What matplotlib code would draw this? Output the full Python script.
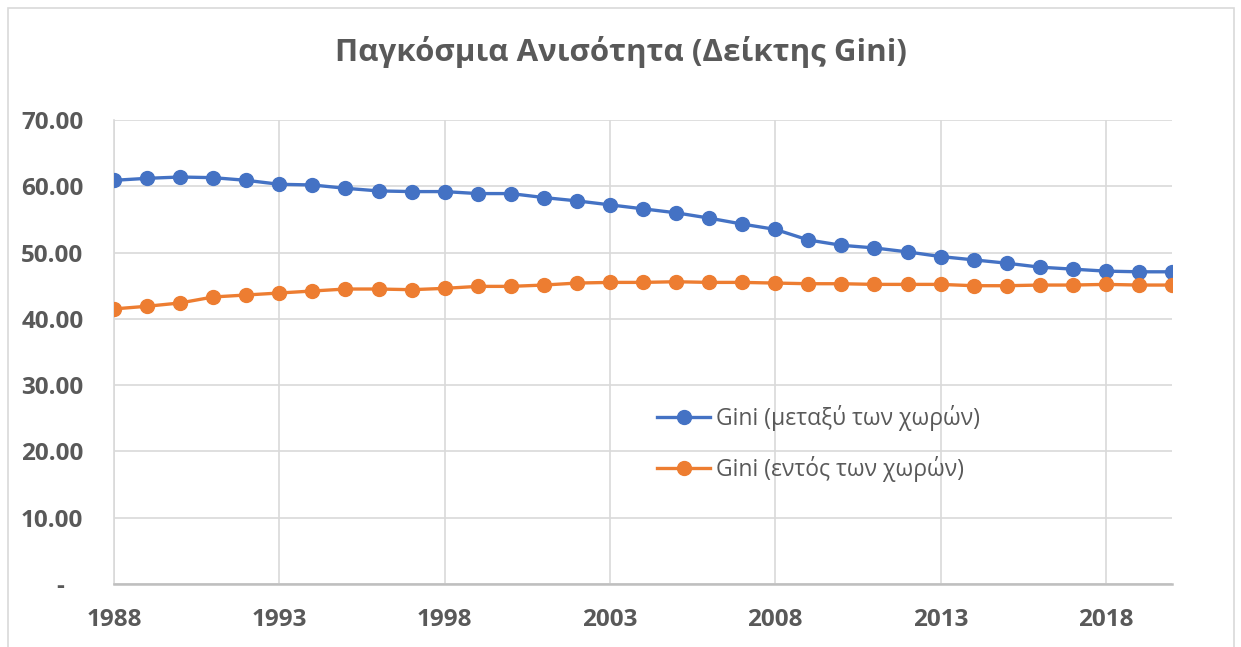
import matplotlib
matplotlib.use('Agg')
import matplotlib.pyplot as plt
from matplotlib.ticker import FuncFormatter, MultipleLocator
from matplotlib.patches import Rectangle

years = list(range(1988, 2021))
gini_between = [60.9, 61.2, 61.4, 61.3, 60.9, 60.3, 60.2, 59.7, 59.3, 59.2,
                59.2, 58.9, 58.9, 58.3, 57.8, 57.2, 56.6, 56.0, 55.2, 54.3,
                53.5, 51.9, 51.1, 50.7, 50.1, 49.4, 48.9, 48.4, 47.8, 47.5,
                47.2, 47.1, 47.1]
gini_within = [41.5, 41.9, 42.4, 43.3, 43.6, 43.9, 44.2, 44.5, 44.5, 44.4,
               44.6, 44.9, 44.9, 45.1, 45.4, 45.5, 45.5, 45.6, 45.5, 45.5,
               45.4, 45.3, 45.3, 45.2, 45.2, 45.2, 45.0, 45.0, 45.1, 45.1,
               45.2, 45.1, 45.1]
label_between = 'Gini (μεταξύ των χωρών)'
label_within = 'Gini (εντός των χωρών)'
title = 'Παγκόσμια Ανισότητα (Δείκτης Gini)'

plt.rcParams['font.family'] = ['Open Sans', 'DejaVu Sans']
textcolor = '#595959'
gridcolor = '#d9d9d9'

fig = plt.figure(figsize=(12.41, 6.47), dpi=100)
ax = fig.add_axes([114/1241, 1 - 584/647, (1172-114)/1241, (584-120)/647])

# chart border
fig.patches.append(Rectangle((8/1241, -0.1), (1234-8)/1241, 1.1 - 8/647, transform=fig.transFigure,
                             fill=False, edgecolor=gridcolor, linewidth=1.2))

ax.plot(years, gini_between, color='#4472C4', linewidth=2.4, marker='o', markersize=10,
        label=label_between, zorder=3)
ax.plot(years, gini_within, color='#ED7D31', linewidth=2.4, marker='o', markersize=10,
        label=label_within, zorder=3)

ax.set_xlim(1988, 2020)
ax.set_ylim(0, 70)
ax.yaxis.set_major_locator(MultipleLocator(10))
ax.set_xticks(list(range(1988, 2020, 5)))
ax.yaxis.set_major_formatter(FuncFormatter(lambda v, p: '-   ' if v == 0 else '%.2f' % v))

ax.grid(True, color=gridcolor, linewidth=1.2)
ax.set_axisbelow(True)
for s in ['top', 'right']:
        ax.spines[s].set_visible(False)
ax.spines['left'].set_color(gridcolor)
ax.spines['left'].set_linewidth(1.2)
ax.spines['bottom'].set_color('#bfbfbf')
ax.spines['bottom'].set_linewidth(1.8)
ax.tick_params(axis='both', length=0, labelsize=17.5, labelcolor=textcolor)
ax.tick_params(axis='y', pad=22)
ax.tick_params(axis='x', pad=17)
for lbl in ax.get_xticklabels() + ax.get_yticklabels():
        lbl.set_fontweight('bold')

fig.text(0.5, 1 - 52/647, title, ha='center', va='center', fontsize=22.5,
         fontweight='bold', color=textcolor)

leg = ax.legend(loc='upper left', bbox_to_anchor=(0.505, 0.405), frameon=False, fontsize=16.5,
                handlelength=2.3, handletextpad=0.25, labelspacing=1.1, borderaxespad=0)
for t in leg.get_texts():
        t.set_color(textcolor)

fig.savefig('out.png', dpi=100)
